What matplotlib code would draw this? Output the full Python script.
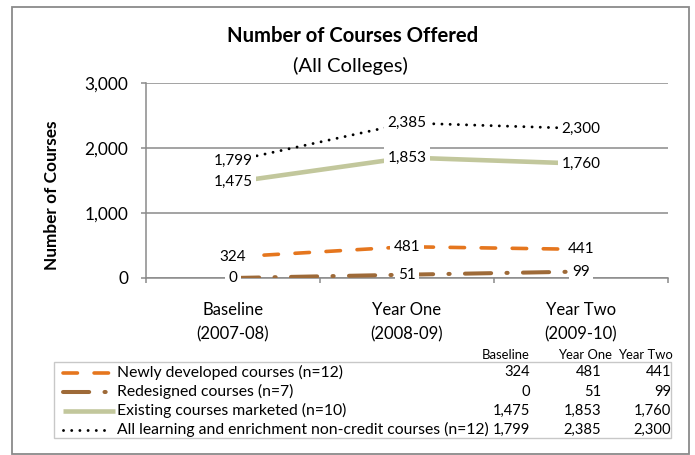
import matplotlib
matplotlib.use("Agg")
import matplotlib.pyplot as plt
from matplotlib.patches import Rectangle

plt.rcParams['font.family'] = ['Lato', 'DejaVu Sans']

categories = ["Baseline\n(2007-08)", "Year One\n(2008-09)", "Year Two\n(2009-10)"]
table_headers = ["Baseline", "Year One", "Year Two"]
series_names = [
    "Newly developed courses (n=12)",
    "Redesigned courses (n=7)",
    "Existing courses marketed (n=10)",
    "All learning and enrichment non-credit courses (n=12)",
]
newly = [324, 481, 441]
redesigned = [0, 51, 99]
existing = [1475, 1853, 1760]
all_courses = [1799, 2385, 2300]
series_values = [newly, redesigned, existing, all_courses]
yticks = [0, 1000, 2000, 3000]

W, H = 695, 455
DPI = 100
GRAY = "#8a8a8a"
styles = [
    dict(color="#E5761E", lw=2.6, dashes=(4.0, 4.6), dash_capstyle="round", solid_capstyle="round"),
    dict(color="#9E6A38", lw=2.9, dashes=(6.5, 3.8, 0.3, 3.8), dash_capstyle="round", solid_capstyle="round"),
    dict(color="#C2C79C", lw=3.3, solid_capstyle="butt"),
    dict(color="#000000", lw=2.1, dashes=(0.01, 2.8), dash_capstyle="round"),
]

fig = plt.figure(figsize=(W / DPI, H / DPI), dpi=DPI)

def fx(x):
    return x / W

def fy(y):
    return 1 - y / H

# plot area
ax = fig.add_axes([fx(146), fy(278), (668 - 146) / W, (278 - 83) / H])
x = list(range(len(categories)))
for vals, st in zip(series_values, styles):
    kw = dict(st)
    dashes = kw.pop("dashes", None)
    ln, = ax.plot(x, vals, zorder=3, **kw)
    if dashes is not None:
        ln.set_dashes(dashes)
    for xi, v in zip(x, vals):
        ax.text(xi, v, f"{v:,}", ha="center", va="center", fontsize=11, color="black",
                zorder=5, bbox=dict(boxstyle="square,pad=0.22", fc="white", ec="none"))

ax.set_xlim(-0.5, len(categories) - 0.5)
ax.set_ylim(0, 3000)
ax.set_yticks(yticks)
ax.set_yticklabels([f"{t:,}" for t in yticks], fontsize=12.4)
ax.set_xticks(x)
ax.set_xticklabels(categories, fontsize=12, linespacing=1.65)
ax.set_xticks([i - 0.5 for i in range(len(categories) + 1)], minor=True)
ax.tick_params(axis="x", which="major", length=0, pad=17)
ax.tick_params(axis="x", which="minor", length=3.8, color=GRAY, width=1.1)
ax.tick_params(axis="y", length=3.8, color=GRAY, width=1.1, pad=9)
ax.yaxis.grid(True, color=GRAY, lw=1.1)
ax.set_axisbelow(True)
for s in ["top", "right"]:
    ax.spines[s].set_visible(False)
for s in ["left", "bottom"]:
    ax.spines[s].set_color(GRAY)
    ax.spines[s].set_linewidth(1.1)
ax.spines["bottom"].set_zorder(2)

fig.text(fx(52), fy(195), "Number of Courses", rotation=90, ha="center", va="center",
         fontsize=12.4, fontweight="bold")
fig.text(fx(353), fy(42), "Number of Courses Offered", ha="center", va="baseline",
         fontsize=14.6, fontweight="bold")
fig.text(fx(350), fy(72), "(All Colleges)", ha="center", va="baseline", fontsize=14.6)

# outer frame
ov = fig.add_axes([0, 0, 1, 1], zorder=-1)
ov.set_xlim(0, W)
ov.set_ylim(H, 0)
ov.axis("off")
ov.add_patch(Rectangle((12, 7), 689 - 12, 454 - 7, fill=False, ec=GRAY, lw=1.3))

# legend table
ov2 = fig.add_axes([0, 0, 1, 1])
ov2.set_xlim(0, W)
ov2.set_ylim(H, 0)
ov2.axis("off")
ov2.patch.set_alpha(0)
ov2.add_patch(Rectangle((54, 362), 671 - 54, 438 - 362, fill=False, ec="#c8c8c8", lw=1.0))

row_y = [372.5, 391.5, 410.5, 429.5]
col_right = [530, 601, 671]
head_right = [530, 612, 673]
for hx, h in zip(head_right, table_headers):
    ov2.text(hx, 355, h, ha="right", va="center", fontsize=9.4)

sample_x = [(63, 110), (63, 108), (63, 115), (63, 111)]
for ry, name, vals, st, (sx0, sx1) in zip(row_y, series_names, series_values, styles, sample_x):
    kw = dict(st)
    dashes = kw.pop("dashes", None)
    ln, = ov2.plot([sx0, sx1], [ry, ry], **kw)
    if dashes is not None:
        ln.set_dashes(dashes)
    ov2.text(117, ry, name, ha="left", va="center", fontsize=11.3)
    for cx, v in zip(col_right, vals):
        ov2.text(cx, ry, f"{v:,}", ha="right", va="center", fontsize=10.6)

fig.savefig("out.png", dpi=DPI)
